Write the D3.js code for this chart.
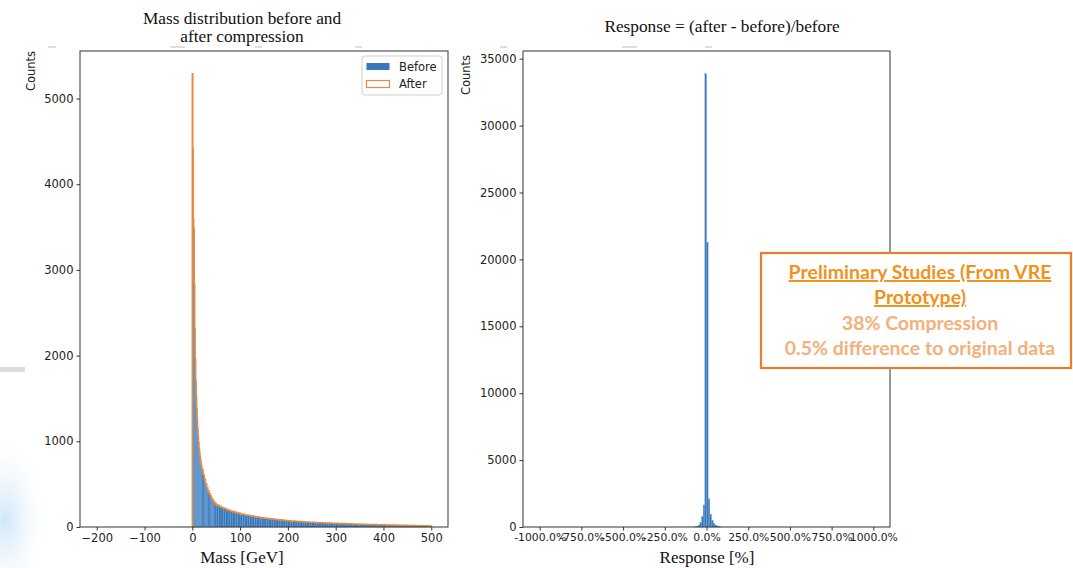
<!DOCTYPE html>
<html lang="en">
  <head>
    <meta charset="utf-8"/>
    <title>Mass distribution and response</title>
    <script src="https://cdn.jsdelivr.net/npm/d3@7"></script>
    <style>
      body { margin: 0; background: #fff; }
      .tick text { font-family: "DejaVu Sans", sans-serif; font-size: 11.5px; fill: #222; }
      .resp-x .tick text { font-size: 10.8px; }
      .tick line, .domain { stroke: #333; }
      .title, .xlabel { font-family: "Liberation Serif", serif; fill: #111; }
      .ylabel, .legend text { font-family: "DejaVu Sans", sans-serif; font-size: 11.5px; fill: #222; }
    </style>
  </head>
  <body>
    <div id="chart"></div>
    <script>

      // ---- data ----
      // left plot: mass histogram, bin edges in GeV (finer near the peak)
      var massEdges = [0,1,2,3,4,5,6,7,8,9,10,11,12,13,14,15,16,17,18,19,20,
        22.5,25,27.5,30,32.5,35,37.5,40,42.5,45,47.5,50,
        55,60,65,70,75,80,85,90,95,100,105,110,115,120,125,130,135,140,145,150,
        155,160,165,170,175,180,185,190,195,200,205,210,215,220,225,230,235,240,245,250,
        255,260,265,270,275,280,285,290,295,300,305,310,315,320,325,330,335,340,345,350,
        355,360,365,370,375,380,385,390,395,400,405,410,415,420,425,430,435,440,445,450,
        455,460,465,470,475,480,485,490,495,500];
      var countsBefore = [5280,4400,3600,3460,2820,2300,1950,1700,1520,1380,1250,1140,1050,980,910,860,815,775,735,700,
        660,600,545,495,450,412,380,352,325,302,282,265,
        250,236,221,211,197,189,177,171,161,156,
        147,143,135,132,125,122,115,113,107,105,
        99,97,92,91,86,85,80,78,75,74,
        70,68,66,65,61,60,58,57,55,54,
        52,51,49,48,47,46,45,44,43,42,
        41,40,39,38,37,36,35,34,33,32,
        31,31,30,29,28,28,27,26,25,25,
        24,23,23,22,21,21,20,19,19,18,
        17,17,16,15,15,14,13,13,12,11];
      var countsAfter = [5290,4410,3590,3480,2830,2310,1960,1710,1530,1390,1260,1150,1060,990,920,870,825,785,745,710,
        672,611,556,506,460,422,389,361,334,311,290,273,
        258,244,229,219,205,196,184,178,168,162,
        153,149,141,137,131,127,120,118,112,109,
        103,101,96,95,90,88,84,82,79,77,
        73,71,69,68,64,63,61,59,58,56,
        54,53,51,50,49,48,47,46,45,44,
        43,42,41,40,39,38,37,36,35,34,
        33,32,31,30,29,29,28,27,26,26,
        25,24,24,23,22,22,21,20,20,19,
        18,18,17,16,16,15,14,14,13,12];
      var massRange = [-200, 500];
      var massTicks = [-200,-100,0,100,200,300,400,500];
      var massCountTicks = [0,1000,2000,3000,4000,5000];

      // right plot: response histogram, bin edges in %
      var respEdges = [-70,-60,-50,-40,-30,-20,-10,0,10,20,30,40,50,60,70,80,90];
      var respCounts = [25,60,140,330,780,1650,33880,21290,2100,950,500,270,150,85,45,20];
      var respRange = [-1000, 1000];
      var respTicks = [-1000,-750,-500,-250,0,250,500,750,1000];
      var respCountTicks = [0,5000,10000,15000,20000,25000,30000,35000];

      var noteLines = ["Preliminary Studies (From VRE", "Prototype)", "38% Compression", "0.5% difference to original data"];

      var blue = "#3b78b9";
      var orange = "#ec8a3c";

      var w = 1073, h = 568;
      var svg = d3.select("#chart").append("svg")
        .attr("width", w)
        .attr("height", h);

      // faint slide leftovers behind the charts
      var defs = svg.append("defs");
      var grad = defs.append("radialGradient").attr("id", "glow");
      grad.append("stop").attr("offset", "0%").attr("stop-color", "#cfe6f7");
      grad.append("stop").attr("offset", "100%").attr("stop-color", "#ffffff").attr("stop-opacity", 0);
      svg.append("ellipse").attr("cx", 5).attr("cy", 520).attr("rx", 45).attr("ry", 90).attr("fill", "url(#glow)");
      svg.append("rect").attr("x", 0).attr("y", 367).attr("width", 25).attr("height", 5).attr("fill", "#dcdcdc");
      [[48,56],[170,185],[255,262],[355,362],[500,507],[622,637],[705,712]].forEach(function(s) {
        svg.append("line").attr("x1", s[0]).attr("x2", s[1]).attr("y1", 47).attr("y2", 47)
          .attr("stroke", "#d4d4d4").attr("stroke-width", 1.5);
      });

      // pad a histogram range by 5% on each side, like matplotlib
      function padded(r) {
        var m = (r[1] - r[0]) * 0.05;
        return [r[0] - m, r[1] + m];
      }

      function drawFrame(g, x, y, xTicks, xFmt, yTicks, xClass) {
        var pw = x.range()[1] - x.range()[0];
        var ph = y.range()[0] - y.range()[1];
        g.append("g")
          .attr("class", xClass || "")
          .attr("transform", "translate(0," + ph + ")")
          .call(d3.axisBottom(x).tickValues(xTicks).tickFormat(xFmt).tickSizeOuter(0).tickSize(3.5).tickPadding(3))
          .call(function(a) { a.select(".domain").remove(); });
        g.append("g")
          .call(d3.axisLeft(y).tickValues(yTicks).tickFormat(d3.format("d")).tickSizeOuter(0).tickSize(3.5).tickPadding(3))
          .call(function(a) { a.select(".domain").remove(); });
        g.append("rect")
          .attr("width", pw).attr("height", ph)
          .attr("fill", "none").attr("stroke", "#333").attr("stroke-width", 1);
      }

      // ---------- left plot ----------
      var L = { left: 80, top: 51, right: 448, bottom: 527 };
      var gL = svg.append("g").attr("transform", "translate(" + L.left + "," + L.top + ")");
      var xM = d3.scaleLinear().domain(padded(massRange)).range([0, L.right - L.left]);
      var yM = d3.scaleLinear().domain([0, d3.max(countsAfter.concat(countsBefore)) * 1.05]).range([L.bottom - L.top, 0]);

      var massBins = countsBefore.map(function(c, i) {
        return { x0: massEdges[i], x1: massEdges[i + 1], before: c, after: countsAfter[i] };
      });

      gL.selectAll("rect.bar")
        .data(massBins)
        .enter()
        .append("rect")
        .attr("class", "bar")
        .attr("x", function(d) { return xM(d.x0); })
        .attr("width", function(d) { return xM(d.x1) - xM(d.x0); })
        .attr("y", function(d) { return yM(d.before); })
        .attr("height", function(d) { return yM(0) - yM(d.before); })
        .attr("fill", blue)
        .attr("stroke", "#6a9ed3")
        .attr("stroke-width", 0.4);

      // "After" drawn as a step outline
      var stepPts = [[massEdges[0], 0]];
      massBins.forEach(function(d) {
        stepPts.push([d.x0, d.after]);
        stepPts.push([d.x1, d.after]);
      });
      stepPts.push([massEdges[massEdges.length - 1], 0]);
      gL.append("path")
        .datum(stepPts)
        .attr("fill", "none")
        .attr("stroke", orange)
        .attr("stroke-width", 1.5)
        .attr("d", d3.line().x(function(p) { return xM(p[0]); }).y(function(p) { return yM(p[1]); }));

      drawFrame(gL, xM, yM, massTicks, function(d) { return d < 0 ? "\u2212" + Math.abs(d) : d; }, massCountTicks);

      // legend
      var lg = gL.append("g").attr("class", "legend").attr("transform", "translate(" + (362 - L.left) + "," + (56 - L.top) + ")");
      lg.append("rect").attr("width", 80).attr("height", 39).attr("rx", 3)
        .attr("fill", "#fff").attr("fill-opacity", 0.85).attr("stroke", "#d0d0d0");
      lg.append("rect").attr("x", 4.5).attr("y", 7).attr("width", 23).attr("height", 7).attr("fill", blue);
      lg.append("rect").attr("x", 4.5).attr("y", 24.5).attr("width", 23).attr("height", 7)
        .attr("fill", "none").attr("stroke", orange).attr("stroke-width", 1.2);
      lg.append("text").attr("x", 37).attr("y", 15).text("Before");
      lg.append("text").attr("x", 37).attr("y", 32).text("After");

      svg.append("text").attr("class", "title").attr("x", 242).attr("y", 24)
        .attr("text-anchor", "middle").style("font-size", "17.3px").text("Mass distribution before and");
      svg.append("text").attr("class", "title").attr("x", 242).attr("y", 42)
        .attr("text-anchor", "middle").style("font-size", "17.3px").text("after compression");
      svg.append("text").attr("class", "xlabel").attr("x", 242).attr("y", 563)
        .attr("text-anchor", "middle").style("font-size", "17px").text("Mass [GeV]");
      svg.append("text").attr("class", "ylabel")
        .attr("transform", "translate(35,71)rotate(-90)")
        .attr("text-anchor", "middle").text("Counts");

      // ---------- right plot ----------
      var R = { left: 523, top: 51, right: 890, bottom: 527 };
      var gR = svg.append("g").attr("transform", "translate(" + R.left + "," + R.top + ")");
      var xR = d3.scaleLinear().domain(padded(respRange)).range([0, R.right - R.left]);
      var yR = d3.scaleLinear().domain([0, d3.max(respCounts) * 1.05]).range([R.bottom - R.top, 0]);

      var respBins = respCounts.map(function(c, i) {
        return { x0: respEdges[i], x1: respEdges[i + 1], n: c };
      });

      gR.selectAll("rect.bar")
        .data(respBins)
        .enter()
        .append("rect")
        .attr("class", "bar")
        .attr("x", function(d) { return xR(d.x0); })
        .attr("width", function(d) { return xR(d.x1) - xR(d.x0); })
        .attr("y", function(d) { return yR(d.n); })
        .attr("height", function(d) { return yR(0) - yR(d.n); })
        .attr("fill", blue)
        .attr("stroke", "#6a9ed3")
        .attr("stroke-width", 0.3);

      drawFrame(gR, xR, yR, respTicks, function(d) { return d.toFixed(1) + "%"; }, respCountTicks, "resp-x");

      svg.append("text").attr("class", "title").attr("x", 722).attr("y", 32)
        .attr("text-anchor", "middle").style("font-size", "17.3px").text("Response = (after - before)/before");
      svg.append("text").attr("class", "xlabel").attr("x", 707).attr("y", 563)
        .attr("text-anchor", "middle").style("font-size", "17px").text("Response [%]");
      svg.append("text").attr("class", "ylabel")
        .attr("transform", "translate(470,75)rotate(-90)")
        .attr("text-anchor", "middle").text("Counts");

      // ---------- annotation box ----------
      var note = svg.append("g");
      note.append("rect").attr("x", 761).attr("y", 253).attr("width", 310).attr("height", 115)
        .attr("fill", "#fff").attr("stroke", "#ee7d2b").attr("stroke-width", 2.2);
      var noteY = [279, 304, 330, 355];
      noteLines.forEach(function(t, i) {
        note.append("text")
          .attr("x", 920).attr("y", noteY[i])
          .attr("text-anchor", "middle")
          .style("font-family", "Lato, 'Open Sans', sans-serif")
          .style("font-weight", "bold")
          .style("font-size", "19.5px")
          .style("text-decoration", i < 2 ? "underline" : "none")
          .attr("fill", i < 2 ? "#f0921c" : "#f4b07a")
          .text(t);
      });
    </script>
  </body>
</html>
